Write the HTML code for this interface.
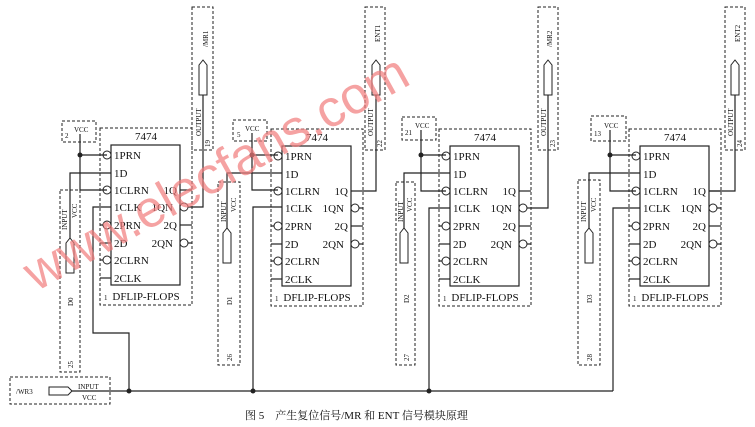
<!DOCTYPE html>
<html><head><meta charset="utf-8"><style>
html,body{margin:0;padding:0;background:#fff;}
svg{display:block;}
text{font-family:"Liberation Serif",serif;fill:#111;}
.l{font-size:11px;}
.s{font-size:7px;}
.d{fill:none;stroke:#222;stroke-width:1;stroke-dasharray:3,2;}
.w{fill:none;stroke:#222;stroke-width:1.2;}
</style></head><body>
<svg width="755" height="427" viewBox="0 0 755 427" xmlns="http://www.w3.org/2000/svg">
<defs>
<g id="chip">
 <rect x="-11" y="-17" width="92" height="177" class="d"/>
 <rect x="0" y="0" width="69" height="140" fill="none" stroke="#222" stroke-width="1.2"/>
 <text x="35" y="-5" class="l" text-anchor="middle">7474</text>
 <text x="35" y="155" class="l" text-anchor="middle" font-size="10.5">DFLIP-FLOPS</text>
 <text x="-7" y="155" class="s">1</text>
 <text x="3" y="14" class="l">1PRN</text>
 <text x="3" y="32" class="l">1D</text>
 <text x="3" y="49" class="l">1CLRN</text>
 <text x="3" y="66" class="l">1CLK</text>
 <text x="3" y="84" class="l">2PRN</text>
 <text x="3" y="102" class="l">2D</text>
 <text x="3" y="119" class="l">2CLRN</text>
 <text x="3" y="137" class="l">2CLK</text>
 <text x="66" y="49" class="l" text-anchor="end">1Q</text>
 <text x="62" y="66" class="l" text-anchor="end">1QN</text>
 <text x="66" y="84" class="l" text-anchor="end">2Q</text>
 <text x="62" y="102" class="l" text-anchor="end">2QN</text>
 <circle cx="-4" cy="10" r="4" fill="#fff" stroke="#222"/>
 <circle cx="-4" cy="45" r="4" fill="#fff" stroke="#222"/>
 <circle cx="-4" cy="80" r="4" fill="#fff" stroke="#222"/>
 <circle cx="-4" cy="115" r="4" fill="#fff" stroke="#222"/>
 <line x1="-11" y1="80" x2="-8" y2="80" class="w"/>
 <line x1="-11" y1="98" x2="0" y2="98" class="w"/>
 <line x1="-11" y1="115" x2="-8" y2="115" class="w"/>
 <line x1="-11" y1="133" x2="0" y2="133" class="w"/>
 <circle cx="73" cy="62" r="4" fill="#fff" stroke="#222"/>
 <circle cx="73" cy="98" r="4" fill="#fff" stroke="#222"/>
 <line x1="69" y1="45" x2="81" y2="45" class="w"/>
 <line x1="77" y1="62" x2="81" y2="62" class="w"/>
 <line x1="69" y1="80" x2="81" y2="80" class="w"/>
 <line x1="77" y1="98" x2="81" y2="98" class="w"/>
</g>
<g id="inpin"><path d="M0,0 L4,-5 L8,0 L8,30 L0,30 Z" fill="#fff" stroke="#222"/></g>
</defs>

<!-- Block 1 -->
<use href="#chip" x="111" y="145"/>
<rect x="62" y="121" width="34" height="21" class="d"/>
<text x="74" y="132" class="s">VCC</text><text x="65" y="138" class="s">2</text>
<path d="M80,134 V190 H107 M80,155 H107" class="w"/>
<circle cx="80" cy="155" r="2.5" fill="#222"/>
<rect x="60" y="190" width="20" height="182" class="d"/>
<text transform="translate(67,230) rotate(-90)" class="s">INPUT</text>
<text transform="translate(77,218) rotate(-90)" class="s">VCC</text>
<text transform="translate(73,306) rotate(-90)" class="s">D0</text>
<text transform="translate(73,368) rotate(-90)" class="s">25</text>
<path d="M70,243 V173 H111" class="w"/>
<use href="#inpin" x="66" y="243"/>
<path d="M111,207 H93 V333 H129 V391" class="w"/>
<path d="M192,207 H203 V90" class="w"/>
<rect x="192" y="7" width="21" height="143" class="d"/>
<use href="#inpin" x="199" y="65"/>
<text transform="translate(208,47) rotate(-90)" class="s">/MR1</text>
<text transform="translate(201,136) rotate(-90)" class="s">OUTPUT</text>
<text transform="translate(210,147) rotate(-90)" class="s">19</text>

<!-- Block 2 -->
<use href="#chip" x="282" y="146"/>
<rect x="233" y="120" width="34" height="21" class="d"/>
<text x="245" y="131" class="s">VCC</text><text x="237" y="137" class="s">5</text>
<path d="M252,133 V190 H278 M252,155 H278" class="w"/>
<circle cx="252" cy="155" r="2.5" style="fill:#222"/>
<rect x="218" y="182" width="22" height="183" class="d"/>
<text transform="translate(226,222) rotate(-90)" class="s">INPUT</text>
<text transform="translate(236,212) rotate(-90)" class="s">VCC</text>
<text transform="translate(232,305) rotate(-90)" class="s">D1</text>
<text transform="translate(232,361) rotate(-90)" class="s">26</text>
<path d="M227,233 V173 H282" class="w"/>
<use href="#inpin" x="223" y="233"/>
<path d="M282,207 H253 V391" class="w"/>
<path d="M363,191 H376 V90" class="w"/>
<rect x="365" y="7" width="20" height="143" class="d"/>
<use href="#inpin" x="372" y="65"/>
<text transform="translate(380,42) rotate(-90)" class="s">ENT1</text>
<text transform="translate(373,136) rotate(-90)" class="s">OUTPUT</text>
<text transform="translate(382,147) rotate(-90)" class="s">22</text>

<!-- Block 3 -->
<use href="#chip" x="450" y="146"/>
<rect x="402" y="117" width="34" height="23" class="d"/>
<text x="415" y="128" class="s">VCC</text><text x="405" y="135" class="s">21</text>
<path d="M421,130 V191 H446 M421,155 H446" class="w"/>
<circle cx="421" cy="155" r="2.5" style="fill:#222"/>
<rect x="396" y="182" width="19" height="183" class="d"/>
<text transform="translate(403,222) rotate(-90)" class="s">INPUT</text>
<text transform="translate(412,212) rotate(-90)" class="s">VCC</text>
<text transform="translate(409,303) rotate(-90)" class="s">D2</text>
<text transform="translate(409,361) rotate(-90)" class="s">27</text>
<path d="M404,233 V173 H450" class="w"/>
<use href="#inpin" x="400" y="233"/>
<path d="M450,208 H429 V391" class="w"/>
<path d="M531,208 H548 V90" class="w"/>
<rect x="538" y="7" width="20" height="143" class="d"/>
<use href="#inpin" x="544" y="65"/>
<text transform="translate(552,47) rotate(-90)" class="s">/MR2</text>
<text transform="translate(546,136) rotate(-90)" class="s">OUTPUT</text>
<text transform="translate(555,147) rotate(-90)" class="s">23</text>

<!-- Block 4 -->
<use href="#chip" x="640" y="146"/>
<rect x="591" y="116" width="35" height="25" class="d"/>
<text x="604" y="128" class="s">VCC</text><text x="594" y="136" class="s">13</text>
<path d="M610,130 V191 H636 M610,155 H636" class="w"/>
<circle cx="610" cy="155" r="2.5" style="fill:#222"/>
<rect x="578" y="180" width="22" height="185" class="d"/>
<text transform="translate(586,222) rotate(-90)" class="s">INPUT</text>
<text transform="translate(596,212) rotate(-90)" class="s">VCC</text>
<text transform="translate(592,303) rotate(-90)" class="s">D3</text>
<text transform="translate(592,361) rotate(-90)" class="s">28</text>
<path d="M589,233 V173 H640" class="w"/>
<use href="#inpin" x="585" y="233"/>
<path d="M640,208 H613 V391" class="w"/>
<path d="M709,191 H735 V90" class="w"/>
<rect x="725" y="7" width="20" height="143" class="d"/>
<use href="#inpin" x="731" y="65"/>
<text transform="translate(740,42) rotate(-90)" class="s">ENT2</text>
<text transform="translate(733,136) rotate(-90)" class="s">OUTPUT</text>
<text transform="translate(742,147) rotate(-90)" class="s">24</text>

<!-- Bus and /WR3 -->
<rect x="10" y="377" width="100" height="27" class="d"/>
<text x="16" y="394" class="s">/WR3</text>
<path d="M49,387 H68 L72,391 L68,395 H49 Z" fill="#fff" stroke="#222"/>
<text x="78" y="389" class="s">INPUT</text>
<text x="82" y="400" class="s">VCC</text>
<line x1="72" y1="391" x2="613" y2="391" class="w"/>
<circle cx="129" cy="391" r="2.5" style="fill:#222"/>
<circle cx="253" cy="391" r="2.5" style="fill:#222"/>
<circle cx="429" cy="391" r="2.5" style="fill:#222"/>

<text x="245" y="419" style="font-family:'Liberation Serif','Noto Serif CJK SC',serif;font-size:11px;">图 5　产生复位信号/MR 和 ENT 信号模块原理</text>

<!-- watermark -->
<text transform="translate(36,292) rotate(-29)" style="font-family:'Liberation Sans',sans-serif;font-size:52px;fill:#f27c7c;opacity:0.7;">www.elecfans.com</text>
</svg>
</body></html>
